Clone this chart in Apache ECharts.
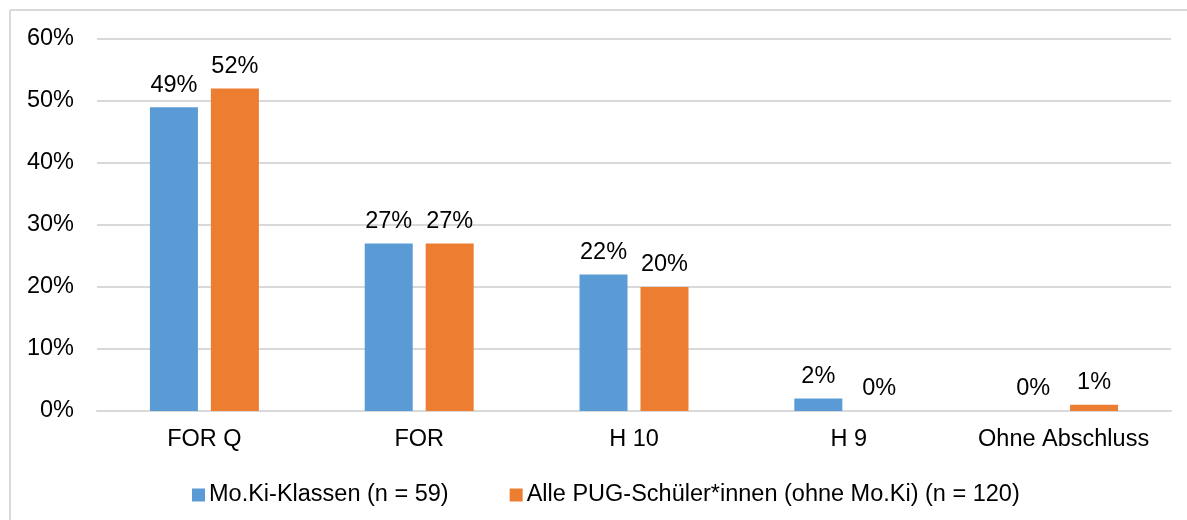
<!DOCTYPE html>
<html>
<head>
<meta charset="utf-8">
<script src="https://cdn.jsdelivr.net/npm/echarts@6/dist/echarts.min.js"></script>
<style>
html,body{margin:0;padding:0;background:#fff;}
#c{width:1187px;height:520px;}
</style>
</head>
<body>
<div id="c"></div>
<script>
const categories = ['FOR Q', 'FOR', 'H 10', 'H 9', 'Ohne Abschluss'];
const seriesNames = ['Mo.Ki-Klassen (n = 59)', 'Alle PUG-Schüler*innen (ohne Mo.Ki) (n = 120)'];
const mokiValues = [49, 27, 22, 2, 0];
const alleValues = [52, 27, 20, 0, 1];
const yTicks = [0, 10, 20, 30, 40, 50, 60];

const font = '"Liberation Sans", Arial, sans-serif';
const fs = 23.5;
const chart = echarts.init(document.getElementById('c'));
const labelCfg = {
  show: true, position: 'top', distance: 10,
  formatter: p => p.value + '%',
  color: '#000', fontSize: fs, fontFamily: font
};
chart.setOption({
  animation: false,
  textStyle: {fontFamily: font},
  graphic: [
    {type: 'line', shape: {x1: 10, y1: 10, x2: 1187, y2: 10}, style: {stroke: '#d9d9d9', lineWidth: 2}},
    {type: 'line', shape: {x1: 10, y1: 10, x2: 10, y2: 520}, style: {stroke: '#d9d9d9', lineWidth: 2}}
  ],
  grid: {left: 97, right: 16, top: 39, bottom: 109, containLabel: false},
  legend: {
    left: 187, top: 478,
    itemWidth: 13, itemHeight: 13, itemGap: 61,
    icon: 'rect',
    textStyle: {fontSize: fs, color: '#000', fontFamily: font, padding: [0, 0, 0, -1]},
    data: seriesNames
  },
  xAxis: {
    type: 'category', data: categories,
    axisLine: {lineStyle: {color: '#d9d9d9', width: 2}},
    axisTick: {show: false},
    axisLabel: {fontSize: fs, color: '#000', margin: 17, fontFamily: font, interval: 0, hideOverlap: false}
  },
  yAxis: {
    type: 'value', min: yTicks[0], max: yTicks[yTicks.length - 1], interval: 10,
    axisLine: {show: false}, axisTick: {show: false},
    splitLine: {lineStyle: {color: '#d9d9d9', width: 2}},
    axisLabel: {fontSize: fs, color: '#000', margin: 23, formatter: v => v + '%', fontFamily: font}
  },
  series: [
    {name: seriesNames[0], type: 'bar', data: mokiValues, barWidth: 48, barGap: '27%',
     itemStyle: {color: '#5B9BD5'}, label: labelCfg},
    {name: seriesNames[1], type: 'bar', data: alleValues, barWidth: 48,
     itemStyle: {color: '#ED7D31'}, label: labelCfg}
  ]
});
</script>
</body>
</html>
